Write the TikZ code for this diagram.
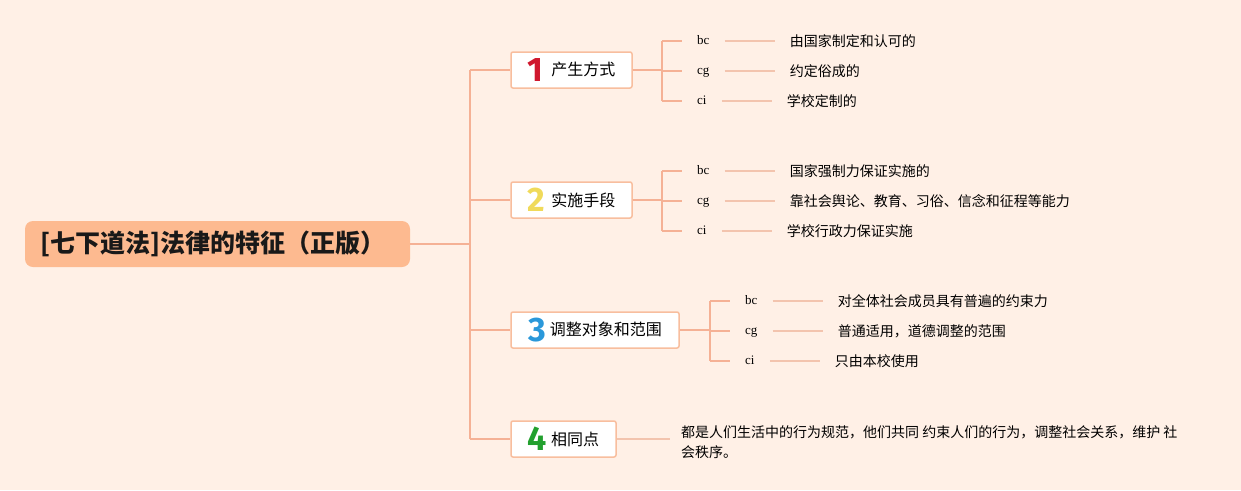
\documentclass[tikz,border=0pt]{standalone}
\usepackage{fontspec}
\setmainfont{Liberation Serif}
\newfontfamily\cjk{Noto Sans CJK SC}
\newfontfamily\digitfont{Fira Sans}
\usetikzlibrary{calc}
\definecolor{bgc}{HTML}{FFF0E6}
\definecolor{linec}{HTML}{F5B195}
\definecolor{leafline}{HTML}{F3C4AE}
\definecolor{boxline}{HTML}{F8BE9E}
\definecolor{rootfill}{HTML}{FDBA90}
\definecolor{dred}{HTML}{D0182E}
\definecolor{dyellow}{HTML}{F0DA5A}
\definecolor{dblue}{HTML}{2A98DA}
\definecolor{dgreen}{HTML}{22A02E}
\tikzset{
  rootbox/.style={fill=rootfill, rounded corners=8pt, minimum width=385pt, minimum height=46pt, inner sep=0pt, font=\cjk\fontsize{25}{28}\selectfont\bfseries, text=black!90},
  topic/.style={draw=boxline, line width=1.5pt, fill=white, rounded corners=2pt, minimum height=36pt, inner sep=0pt, font=\cjk\fontsize{16}{19}\selectfont},
  conn/.style={draw=linec, line width=1.4pt},
  leafc/.style={draw=leafline, line width=1.6pt},
  lbl/.style={anchor=west, inner xsep=15pt, inner ysep=0pt, text height=9pt, text depth=3pt, font=\fontsize{13}{15}\selectfont},
  leaf/.style={anchor=west, inner xsep=15pt, inner ysep=0pt, text height=12pt, text depth=2pt, font=\cjk\fontsize{14}{16}\selectfont},
}
\newcommand{\dig}[2]{\raisebox{-5.5pt}{\digitfont\bfseries\fontsize{34}{34}\selectfont\textcolor{#1}{#2}}}
\begin{document}
\begin{tikzpicture}[x=1pt,y=-1pt]
\fill[bgc] (0,0) rectangle (1241,490);
\useasboundingbox (0,0) rectangle (1241,490);

\node[rootbox] (root) at (217.5,244) {[七下道法]法律的特征（正版）\hspace*{10pt}};
\coordinate (trunk) at (470,244);
\node[topic, minimum width=121pt] (b1) at (571.5,70) {\dig{dred}{1}\hspace{8pt}产生方式};
\node[topic, minimum width=121pt] (b2) at (571.5,200) {\dig{dyellow}{2}\hspace{6pt}实施手段};
\node[topic, minimum width=168pt] (b3) at (595,330) {\dig{dblue}{3}\hspace{4pt}调整对象和范围};
\node[topic, minimum width=105pt] (b4) at (563.5,439) {\dig{dgreen}{4}\hspace{4pt}相同点};

\draw[conn] (root.east) -- (trunk);
\draw[conn] (b1.west -| trunk) -- (b4.west -| trunk);
\draw[conn] (b1.west -| trunk) -- (b1.west);
\draw[conn] (b2.west -| trunk) -- (b2.west);
\draw[conn] (b3.west -| trunk) -- (b3.west);
\draw[conn] (b4.west -| trunk) -- (b4.west);

% group 1
\coordinate (g1) at (662,70);
\node[lbl] (l1a) at (682,41) {bc};
\node[lbl] (l1b) at (682,71) {cg};
\node[lbl] (l1c) at (682,101) {ci};
\node[leaf] (t1a) at ($(l1a.east)+(50,0)$) {由国家制定和认可的};
\node[leaf] (t1b) at ($(l1b.east)+(50,0)$) {约定俗成的};
\node[leaf] (t1c) at ($(l1c.east)+(50,0)$) {学校定制的};
\draw[conn] (b1.east) -- (g1);
\draw[conn] (l1a.west -| g1) -- (l1c.west -| g1);
\foreach \n in {a,b,c} {
  \draw[conn] (l1\n.west -| g1) -- (l1\n.west);
  \draw[leafc] (l1\n.east) -- (t1\n.west);
}

% group 2
\coordinate (g2) at (662,200);
\node[lbl] (l2a) at (682,171) {bc};
\node[lbl] (l2b) at (682,201) {cg};
\node[lbl] (l2c) at (682,231) {ci};
\node[leaf] (t2a) at ($(l2a.east)+(50,0)$) {国家强制力保证实施的};
\node[leaf] (t2b) at ($(l2b.east)+(50,0)$) {靠社会舆论、教育、习俗、信念和征程等能力};
\node[leaf] (t2c) at ($(l2c.east)+(50,0)$) {学校行政力保证实施};
\draw[conn] (b2.east) -- (g2);
\draw[conn] (l2a.west -| g2) -- (l2c.west -| g2);
\foreach \n in {a,b,c} {
  \draw[conn] (l2\n.west -| g2) -- (l2\n.west);
  \draw[leafc] (l2\n.east) -- (t2\n.west);
}

% group 3
\coordinate (g3) at (710,330);
\node[lbl] (l3a) at (730,301) {bc};
\node[lbl] (l3b) at (730,331) {cg};
\node[lbl] (l3c) at (730,361) {ci};
\node[leaf] (t3a) at ($(l3a.east)+(50,0)$) {对全体社会成员具有普遍的约束力};
\node[leaf] (t3b) at ($(l3b.east)+(50,0)$) {普通适用，道德调整的范围};
\node[leaf] (t3c) at ($(l3c.east)+(50,0)$) {只由本校使用};
\draw[conn] (b3.east) -- (g3);
\draw[conn] (l3a.west -| g3) -- (l3c.west -| g3);
\foreach \n in {a,b,c} {
  \draw[conn] (l3\n.west -| g3) -- (l3\n.west);
  \draw[leafc] (l3\n.east) -- (t3\n.west);
}

% group 4
\node[anchor=west, inner xsep=11pt, inner ysep=0pt, align=left, font=\cjk\fontsize{14}{20}\selectfont] (t4) at (670,442) {都是人们生活中的行为规范，他们共同 约束人们的行为，调整社会关系，维护 社\\会秩序。};
\draw[leafc] (b4.east) -- (b4.east -| t4.west);
\end{tikzpicture}
\end{document}
